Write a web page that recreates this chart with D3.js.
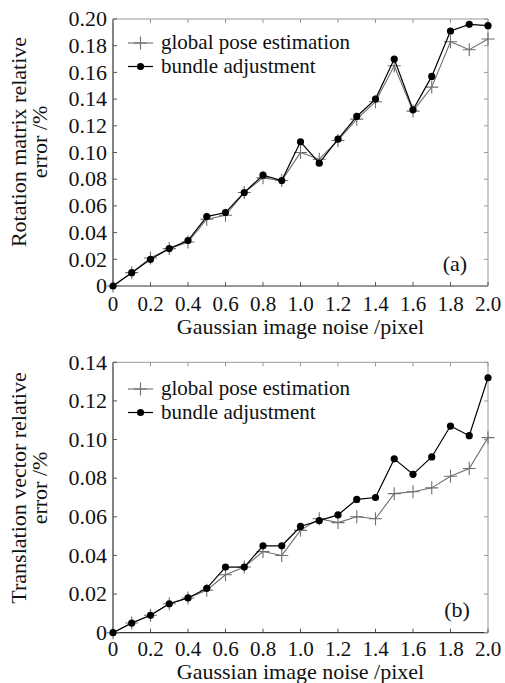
<!DOCTYPE html>
<head>
  <meta charset="utf-8">
  <title>Pose error</title>
  <script src="https://d3js.org/d3.v7.min.js"></script>
  <style>
    body { margin:0; background:#fff; }
    svg { display:block; }
    text { font-family: "Liberation Serif", "Times New Roman", serif; fill:#111; }
  </style>
</head>

<body>
  <svg width="505" height="683"></svg>
  <script>
    var noise = [0, 0.1, 0.2, 0.3, 0.4, 0.5, 0.6, 0.7, 0.8, 0.9, 1.0,
                 1.1, 1.2, 1.3, 1.4, 1.5, 1.6, 1.7, 1.8, 1.9, 2.0];

    // (a) rotation matrix relative error
    var rotGlobal = [0, 0.010, 0.021, 0.028, 0.033, 0.050, 0.053, 0.070, 0.081, 0.079, 0.100,
                     0.095, 0.109, 0.125, 0.138, 0.165, 0.131, 0.149, 0.183, 0.177, 0.185];
    var rotBundle = [0, 0.010, 0.020, 0.028, 0.034, 0.052, 0.055, 0.070, 0.083, 0.079, 0.108,
                     0.092, 0.110, 0.127, 0.140, 0.170, 0.132, 0.157, 0.191, 0.196, 0.195];

    // (b) translation vector relative error
    var trGlobal = [0, 0.005, 0.009, 0.015, 0.018, 0.022, 0.030, 0.034, 0.042, 0.040, 0.053,
                    0.059, 0.057, 0.060, 0.059, 0.072, 0.073, 0.075, 0.081, 0.085, 0.101];
    var trBundle = [0, 0.005, 0.009, 0.015, 0.018, 0.023, 0.034, 0.034, 0.045, 0.045, 0.055,
                    0.058, 0.061, 0.069, 0.070, 0.090, 0.082, 0.091, 0.107, 0.102, 0.132];

    var xTicks = [0, 0.2, 0.4, 0.6, 0.8, 1.0, 1.2, 1.4, 1.6, 1.8, 2.0];
    var rotTicks = [0, 0.02, 0.04, 0.06, 0.08, 0.10, 0.12, 0.14, 0.16, 0.18, 0.20];
    var trTicks = [0, 0.02, 0.04, 0.06, 0.08, 0.10, 0.12, 0.14];
    var seriesNames = ['global pose estimation', 'bundle adjustment'];

    var svg = d3.select('svg');
    var left = 113, right = 488;
    var fx = d => d === 0 ? '0' : d3.format('.1f')(d);
    var fy = d => d === 0 ? '0' : d3.format('.2f')(d);

    function plusPath(x, y, s) {
      return 'M' + (x - s) + ',' + y + 'H' + (x + s) + 'M' + x + ',' + (y - s) + 'V' + (y + s);
    }

    function panel(opt) {
      var g = svg.append('g');
      var x = d3.scaleLinear().domain([0, 2]).range([left, right]);
      var y = d3.scaleLinear().domain([0, opt.ymax]).range([opt.bottom, opt.top]);

      // frame: light top/right, dark left/bottom
      g.append('path')
        .attr('d', 'M' + left + ',' + opt.top + 'H' + right + 'V' + opt.bottom)
        .attr('fill', 'none').attr('stroke', '#999').attr('stroke-width', 1);
      g.append('path')
        .attr('d', 'M' + left + ',' + opt.top + 'V' + opt.bottom + 'H' + right)
        .attr('fill', 'none').attr('stroke', '#333').attr('stroke-width', 1.2);

      // ticks
      xTicks.forEach(function(t) {
        g.append('line').attr('x1', x(t)).attr('x2', x(t))
          .attr('y1', opt.bottom).attr('y2', opt.bottom - 4).attr('stroke', '#555');
        g.append('line').attr('x1', x(t)).attr('x2', x(t))
          .attr('y1', opt.top).attr('y2', opt.top + 4).attr('stroke', '#999');
        g.append('text').attr('x', x(t)).attr('y', opt.bottom + opt.xlabOff)
          .attr('text-anchor', 'middle').attr('font-size', 21).text(fx(t));
      });
      opt.yTicks.forEach(function(t) {
        g.append('line').attr('x1', left).attr('x2', left + 4)
          .attr('y1', y(t)).attr('y2', y(t)).attr('stroke', '#555');
        g.append('line').attr('x1', right).attr('x2', right - 4)
          .attr('y1', y(t)).attr('y2', y(t)).attr('stroke', '#999');
        g.append('text').attr('x', left - 6).attr('y', y(t)).attr('dy', '0.33em')
          .attr('text-anchor', 'end').attr('font-size', 22).text(fy(t));
      });

      // axis titles
      g.append('text').attr('x', (left + right) / 2).attr('y', opt.bottom + opt.titleOff)
        .attr('text-anchor', 'middle').attr('font-size', 22).text('Gaussian image noise /pixel');
      opt.ylabel.forEach(function(s, i) {
        g.append('text')
          .attr('transform', 'translate(' + (26 + i * 21) + ',' + opt.ymid + ') rotate(-90)')
          .attr('text-anchor', 'middle').attr('font-size', 22).text(s);
      });

      var line = d3.line().x((d, i) => x(noise[i])).y(d => y(d));

      // global pose estimation
      g.append('path').datum(opt.global).attr('d', line)
        .attr('fill', 'none').attr('stroke', '#6e6e6e').attr('stroke-width', 1.1);
      g.selectAll('.plus').data(opt.global).enter().append('path')
        .attr('d', (d, i) => plusPath(x(noise[i]), y(d), 6.5))
        .attr('stroke', '#6e6e6e').attr('stroke-width', 1.1);

      // bundle adjustment
      g.append('path').datum(opt.bundle).attr('d', line)
        .attr('fill', 'none').attr('stroke', '#000').attr('stroke-width', 1.2);
      g.selectAll('.dot').data(opt.bundle).enter().append('circle')
        .attr('cx', (d, i) => x(noise[i])).attr('cy', d => y(d)).attr('r', 3.6)
        .attr('fill', '#000');

      // legend
      var ly = opt.legendY, gap = 23.5;
      g.append('line').attr('x1', 128).attr('x2', 153).attr('y1', ly).attr('y2', ly)
        .attr('stroke', '#6e6e6e').attr('stroke-width', 1.1);
      g.append('path').attr('d', plusPath(140.5, ly, 6.5)).attr('stroke', '#6e6e6e').attr('stroke-width', 1.1);
      g.append('line').attr('x1', 128).attr('x2', 153).attr('y1', ly + gap).attr('y2', ly + gap)
        .attr('stroke', '#000').attr('stroke-width', 1.2);
      g.append('circle').attr('cx', 140.5).attr('cy', ly + gap).attr('r', 3.6).attr('fill', '#000');
      seriesNames.forEach(function(s, i) {
        g.append('text').attr('x', 161).attr('y', ly + 6 + i * gap)
          .attr('font-size', 21).text(s);
      });

      g.append('text').attr('x', opt.tagX).attr('y', opt.tagY)
        .attr('text-anchor', 'middle').attr('font-size', 22).text(opt.tag);
    }

    panel({ top: 19, bottom: 286, ymax: 0.2, yTicks: rotTicks,
            global: rotGlobal, bundle: rotBundle, xlabOff: 25, titleOff: 48,
            ylabel: ['Rotation matrix relative', 'error /%'], ymid: 142,
            legendY: 43, tag: '(a)', tagX: 455, tagY: 271 });
    panel({ top: 362.3, bottom: 632.7, ymax: 0.14, yTicks: trTicks,
            global: trGlobal, bundle: trBundle, xlabOff: 23, titleOff: 46,
            ylabel: ['Translation vector relative', 'error /%'], ymid: 488,
            legendY: 389, tag: '(b)', tagX: 457, tagY: 617 });
  </script>
</body>
